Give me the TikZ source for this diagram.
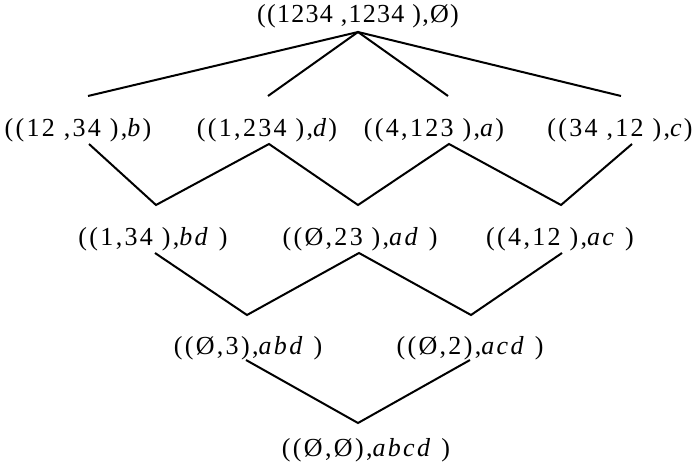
\documentclass[tikz,border=0pt]{standalone}
\usepackage{fontspec}
\setmainfont{Liberation Serif}
\newfontfamily\lblfont[LetterSpace=9]{Liberation Serif}
\newfontfamily\topfont[LetterSpace=5]{Liberation Serif}
\usepackage{tikz}

\begin{document}
\begin{tikzpicture}[
x=1pt, y=-1pt,
lbl/.style={anchor=base, inner sep=0pt, font=\fontsize{26}{30}\selectfont\lblfont},
toplbl/.style={lbl, font=\fontsize{26}{30}\selectfont\topfont},
edge/.style={line width=2pt, line join=miter}
]
\useasboundingbox (0,0) rectangle (700,468);
% labels
\node[toplbl] (nTop) at (358,23) {((1234 ,1234 ),Ø)};
\node[lbl] (nB) at (78,136) {((12 ,34 ),\textit{b})};
\node[lbl] (nD) at (267,136) {((1,234 ),\textit{d})};
\node[lbl] (nA) at (434,136) {((4,123 ),\textit{a})};
\node[lbl] (nC) at (620,136) {((34 ,12 ),\textit{c})};
\node[lbl] (nBD) at (153,245) {((1,34 ),\textit{bd} )};
\node[lbl] (nAD) at (360,245) {((Ø,23 ),\textit{ad} )};
\node[lbl] (nAC) at (560,245) {((4,12 ),\textit{ac} )};
\node[lbl] (nABD) at (248,354) {((Ø,3),\textit{abd} )};
\node[lbl] (nACD) at (470,354) {((Ø,2),\textit{acd} )};
\node[lbl] (nABCD) at (366,456) {((Ø,Ø),\textit{abcd} )};
% line ends
\coordinate (top-dn) at (358,32);
\coordinate (b-up) at (88,96);   \coordinate (b-dn) at (89,144);
\coordinate (d-up) at (268,96);  \coordinate (d-dn) at (269,144);
\coordinate (a-up) at (448,96);  \coordinate (a-dn) at (449,144);
\coordinate (c-up) at (621,96);  \coordinate (c-dn) at (632,144);
\coordinate (bd-up) at (156,205); \coordinate (bd-dn) at (155,253);
\coordinate (ad-up) at (358,205); \coordinate (ad-dn) at (359,253);
\coordinate (ac-up) at (561,205); \coordinate (ac-dn) at (562,253);
\coordinate (abd-up) at (247,315); \coordinate (abd-dn) at (246,360);
\coordinate (acd-up) at (471,315); \coordinate (acd-dn) at (470,360);
\coordinate (abcd-up) at (358,423);
% edges
\draw[edge] (b-up) -- (top-dn) -- (c-up);
\draw[edge] (d-up) -- (top-dn) -- (a-up);
\draw[edge] (b-dn) -- (bd-up) -- (d-dn) -- (ad-up) -- (a-dn) -- (ac-up) -- (c-dn);
\draw[edge] (bd-dn) -- (abd-up) -- (ad-dn) -- (acd-up) -- (ac-dn);
\draw[edge] (abd-dn) -- (abcd-up) -- (acd-dn);
\end{tikzpicture}
\end{document}
